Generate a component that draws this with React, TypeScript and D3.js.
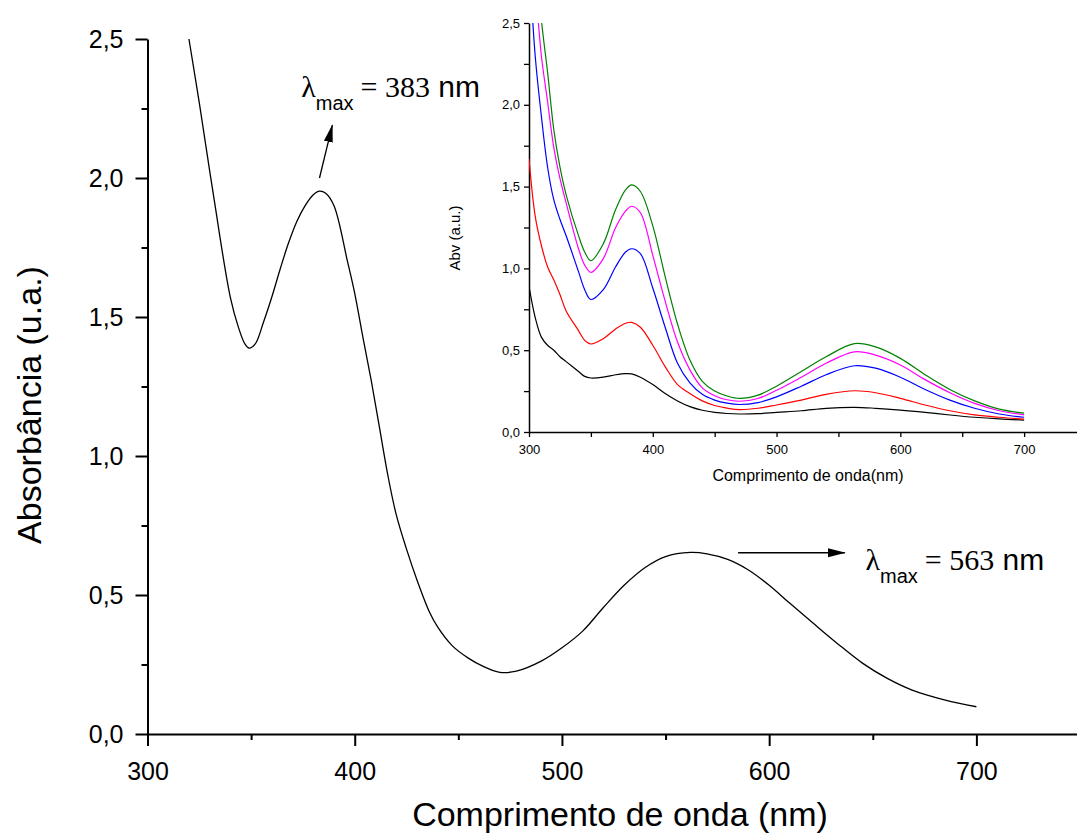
import React, { useRef, useEffect } from 'react';
import * as d3 from 'd3';

// main spectrum
const mainWl = [320, 325, 332, 340, 344, 347, 349, 352, 356, 360, 364, 368, 372, 376, 380, 383, 386, 390, 396.5, 400, 404, 408, 412, 416, 420, 425, 430, 436, 440, 447, 455, 462, 470, 478, 490, 500, 510, 520, 530, 540, 550, 562, 570, 580, 590, 600, 610, 621, 633, 645, 657, 669, 685, 700];
const mainAbs = [2.5, 2.27, 1.93, 1.57, 1.46, 1.403, 1.388, 1.403, 1.482, 1.572, 1.672, 1.765, 1.843, 1.90, 1.94, 1.953, 1.945, 1.90, 1.70, 1.585, 1.425, 1.27, 1.10, 0.93, 0.79, 0.665, 0.555, 0.44, 0.385, 0.318, 0.272, 0.243, 0.222, 0.226, 0.262, 0.31, 0.37, 0.455, 0.535, 0.598, 0.638, 0.653, 0.648, 0.628, 0.59, 0.535, 0.47, 0.40, 0.325, 0.255, 0.2, 0.158, 0.122, 0.098];

// inset spectra
const insetWl = [300, 305, 310, 315, 320, 325, 330, 340, 345, 350, 360, 370, 378, 383, 390, 400, 410, 420, 430, 440, 450, 460, 470, 485, 500, 520, 540, 563, 580, 600, 620, 640, 660, 680, 700];
const insetBlack = [0.89, 0.70, 0.58, 0.53, 0.50, 0.46, 0.43, 0.37, 0.34, 0.33, 0.335, 0.35, 0.357, 0.355, 0.335, 0.29, 0.235, 0.19, 0.155, 0.133, 0.12, 0.113, 0.11, 0.112, 0.12, 0.13, 0.145, 0.151, 0.145, 0.134, 0.12, 0.104, 0.09, 0.08, 0.073];
const insetRed = [1.67, 1.32, 1.14, 1.01, 0.93, 0.84, 0.74, 0.62, 0.56, 0.538, 0.57, 0.63, 0.665, 0.67, 0.64, 0.53, 0.40, 0.29, 0.235, 0.19, 0.162, 0.146, 0.137, 0.145, 0.165, 0.195, 0.23, 0.252, 0.24, 0.206, 0.165, 0.13, 0.105, 0.09, 0.079];
const insetBlue = [2.9, 2.3, 1.93, 1.62, 1.42, 1.30, 1.20, 0.98, 0.87, 0.81, 0.87, 1.01, 1.10, 1.12, 1.09, 0.88, 0.64, 0.42, 0.30, 0.23, 0.195, 0.176, 0.168, 0.18, 0.215, 0.28, 0.35, 0.405, 0.39, 0.335, 0.26, 0.195, 0.145, 0.11, 0.09];
const insetMagenta = [3.2, 2.75, 2.3, 2.02, 1.74, 1.55, 1.40, 1.12, 1.02, 0.976, 1.06, 1.25, 1.35, 1.38, 1.34, 1.08, 0.80, 0.55, 0.38, 0.27, 0.222, 0.197, 0.188, 0.205, 0.255, 0.335, 0.42, 0.49, 0.47, 0.41, 0.32, 0.24, 0.175, 0.13, 0.105];
const insetGreen = [3.6, 3.0, 2.52, 2.2, 1.85, 1.62, 1.45, 1.2, 1.10, 1.047, 1.15, 1.36, 1.48, 1.51, 1.47, 1.26, 0.95, 0.66, 0.44, 0.31, 0.25, 0.22, 0.205, 0.225, 0.28, 0.37, 0.46, 0.54, 0.52, 0.45, 0.35, 0.26, 0.19, 0.14, 0.115];
const insetSeries = [
  { name: 'black', color: '#000000', values: insetBlack },
  { name: 'red', color: '#ff0000', values: insetRed },
  { name: 'blue', color: '#0000ff', values: insetBlue },
  { name: 'magenta', color: '#ff00ff', values: insetMagenta },
  { name: 'green', color: '#008000', values: insetGreen },
];

const yTicks = [0, 0.5, 1, 1.5, 2, 2.5];
const yMinor = [0.25, 0.75, 1.25, 1.75, 2.25];
const xTicks = [300, 400, 500, 600, 700];
const xMinor = [350, 450, 550, 650, 750];
const insetYTicks = [0, 0.25, 0.5, 0.75, 1, 1.25, 1.5, 1.75, 2, 2.25, 2.5];
const insetXTicks = [300, 350, 400, 450, 500, 550, 600, 650, 700, 750];

const SANS = 'Liberation Sans, Arial, sans-serif';
const SERIF = 'Liberation Serif, Times New Roman, serif';

const fmt = (d: number) => d3.format('.1f')(d).replace('.', ',');

const App = () => {
  const ref = useRef<SVGSVGElement>(null);

  useEffect(() => {
    const svg = d3.select(ref.current);
    svg.selectAll('*').remove();

    const width = 1077;
    const height = 835;

    svg.append('rect').attr('width', width).attr('height', height).attr('fill', '#fff');

    const defs = svg.append('defs');
    defs.append('marker')
      .attr('id', 'arrowhead')
      .attr('markerUnits', 'userSpaceOnUse')
      .attr('markerWidth', 18).attr('markerHeight', 10)
      .attr('refX', 17).attr('refY', 5)
      .attr('orient', 'auto')
      .append('path').attr('d', 'M0,0.5 L18,5 L0,9.5 Z').attr('fill', '#000');

    // ---------- main chart ----------
    const x = d3.scaleLinear().domain([300, 750]).range([147.5, 1080]);
    const y = d3.scaleLinear().domain([0, 2.5]).range([734, 39]);

    const xAxis = svg.append('g').attr('transform', `translate(0,${y(0)})`)
      .call(d3.axisBottom(x).tickValues(xTicks).tickFormat(d => String(d)).tickSize(12).tickSizeOuter(0).tickPadding(16));
    svg.append('g').attr('transform', `translate(0,${y(0)})`)
      .call(d3.axisBottom(x).tickValues(xMinor).tickFormat(() => '').tickSize(6))
      .call(g => g.select('.domain').remove());
    const yAxis = svg.append('g').attr('transform', `translate(${x(300)},0)`)
      .call(d3.axisLeft(y).tickValues(yTicks).tickFormat(d => fmt(d as number)).tickSize(12).tickSizeOuter(0).tickPadding(12));
    svg.append('g').attr('transform', `translate(${x(300)},0)`)
      .call(d3.axisLeft(y).tickValues(yMinor).tickFormat(() => '').tickSize(6))
      .call(g => g.select('.domain').remove());

    [xAxis, yAxis].forEach(g => {
      g.select('.domain').attr('stroke-width', 2);
      g.selectAll('text').attr('font-family', SANS).attr('font-size', 25).attr('fill', '#000');
    });
    svg.selectAll('.tick line').attr('stroke-width', 2);

    svg.append('text')
      .attr('x', 620).attr('y', 826)
      .attr('text-anchor', 'middle')
      .attr('font-family', SANS).attr('font-size', 34)
      .text('Comprimento de onda (nm)');
    svg.append('text')
      .attr('transform', `translate(41,${405}) rotate(-90)`)
      .attr('text-anchor', 'middle')
      .attr('font-family', SANS).attr('font-size', 34)
      .text('Absorbância (u.a.)');

    const line = d3.line<number>()
      .x((_, i) => x(mainWl[i]))
      .y(d => y(d))
      .curve(d3.curveCatmullRom.alpha(0.5));
    svg.append('path')
      .datum(mainAbs)
      .attr('d', line)
      .attr('fill', 'none').attr('stroke', '#000').attr('stroke-width', 1.3);

    // annotations
    const arrow = (x1: number, y1: number, x2: number, y2: number) =>
      svg.append('line')
        .attr('x1', x(x1)).attr('y1', y(y1)).attr('x2', x(x2)).attr('y2', y(y2))
        .attr('stroke', '#000').attr('stroke-width', 1.3)
        .attr('marker-end', 'url(#arrowhead)');
    arrow(383, 2.0, 389.2, 2.19);
    arrow(585, 0.652, 636.5, 0.652);

    const label = (wl: number, a: number, nm: number) => {
      const t = svg.append('text').attr('x', x(wl)).attr('y', y(a)).attr('fill', '#000');
      t.append('tspan').attr('font-family', SERIF).attr('font-size', 30).text('λ');
      t.append('tspan').attr('font-family', SANS).attr('font-size', 20).attr('dy', 13).text('max');
      t.append('tspan').attr('font-family', SERIF).attr('font-size', 30).attr('dy', -13).attr('dx', 7).text(`= ${nm}`);
      t.append('tspan').attr('font-family', SANS).attr('font-size', 30).text(' nm');
    };
    label(374.2, 2.29, 383);
    label(646.5, 0.59, 563);

    // ---------- inset ----------
    const ix = d3.scaleLinear().domain([300, 750]).range([529, 1086]);
    const iy = d3.scaleLinear().domain([0, 2.5]).range([432, 23]);

    defs.append('clipPath').attr('id', 'insetClip')
      .append('rect').attr('x', ix(300)).attr('y', iy(2.5)).attr('width', 600).attr('height', iy(0) - iy(2.5));

    const ixAxis = svg.append('g').attr('transform', `translate(0,${iy(0)})`)
      .call(d3.axisBottom(ix).tickValues(insetXTicks)
        .tickFormat(d => (xTicks.includes(d as number) ? String(d) : ''))
        .tickSize(5).tickSizeOuter(0).tickPadding(8));
    const iyAxis = svg.append('g').attr('transform', `translate(${ix(300)},0)`)
      .call(d3.axisLeft(iy).tickValues(insetYTicks)
        .tickFormat(d => (yTicks.includes(d as number) ? fmt(d as number) : ''))
        .tickSize(5).tickSizeOuter(0).tickPadding(4));
    [ixAxis, iyAxis].forEach(g => {
      g.select('.domain').attr('stroke-width', 1.5);
      g.selectAll('.tick line').attr('stroke-width', 1.3);
      g.selectAll('text').attr('font-family', SANS).attr('font-size', 13).attr('fill', '#000');
    });

    svg.append('text')
      .attr('x', 808).attr('y', 481)
      .attr('text-anchor', 'middle')
      .attr('font-family', SANS).attr('font-size', 16)
      .text('Comprimento de onda(nm)');
    svg.append('text')
      .attr('transform', `translate(460,238) rotate(-90)`)
      .attr('text-anchor', 'middle')
      .attr('font-family', SANS).attr('font-size', 15)
      .text('Abv (a.u.)');

    const iline = d3.line<number>()
      .x((_, i) => ix(insetWl[i]))
      .y(d => iy(d))
      .curve(d3.curveCatmullRom.alpha(0.5));
    svg.append('g').attr('clip-path', 'url(#insetClip)')
      .selectAll('path')
      .data(insetSeries)
      .enter().append('path')
      .attr('d', d => iline(d.values))
      .attr('fill', 'none')
      .attr('stroke', d => d.color)
      .attr('stroke-width', 1.2);
  }, []);

  return (
    <svg ref={ref} width={1077} height={835}
      style={{ position: 'absolute', left: 0, top: 0, display: 'block' }} />
  );
};

export default App;
